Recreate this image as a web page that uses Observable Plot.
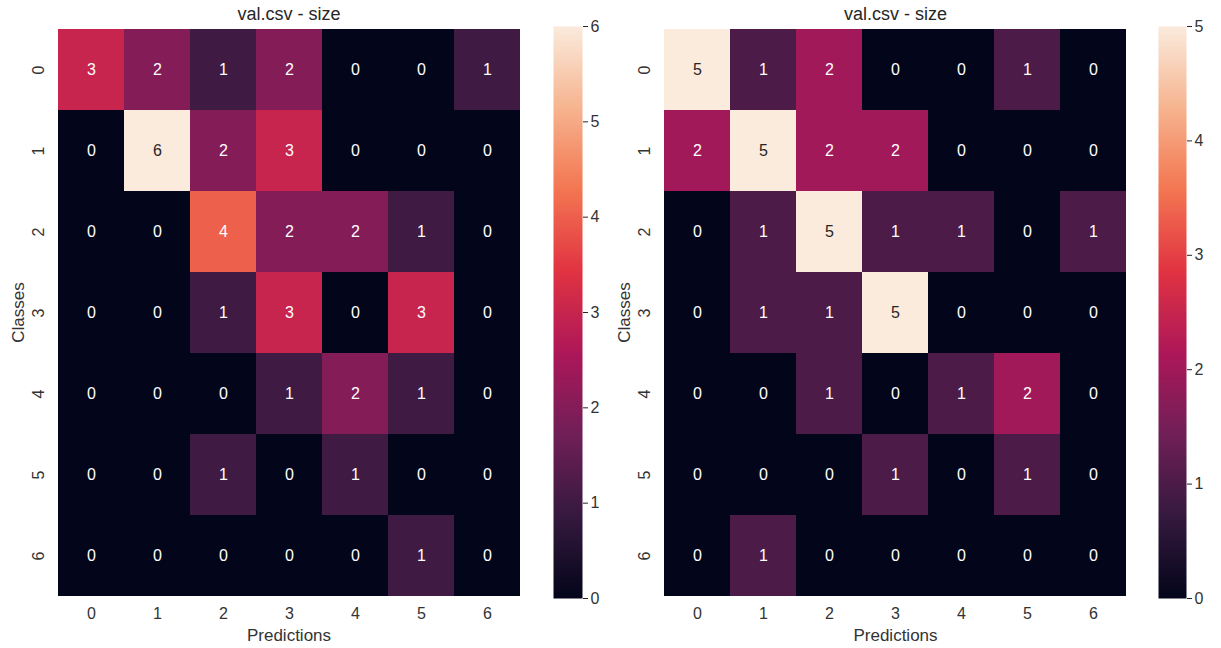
<!DOCTYPE html>
<html>
<head>
<meta charset="utf-8">
<script src="https://cdn.jsdelivr.net/npm/d3@7"></script>
<script src="https://cdn.jsdelivr.net/npm/@observablehq/plot@0.6"></script>
<style>
  body { margin: 0; background: #fff; }
  #wrap { position: relative; width: 1221px; height: 648px; overflow: hidden; font-family: "Liberation Sans", Arial, sans-serif; }
  #wrap > div { position: absolute; top: 0; }
  svg { overflow: visible; }
</style>
</head>
<body>
<div id="wrap">
  <div id="hmL" style="left:0px"></div>
  <div id="cbL" style="left:540px"></div>
  <div id="hmR" style="left:606px"></div>
  <div id="cbR" style="left:1145px"></div>
</div>
<script>
// ---- data ----
const classes = ["0", "1", "2", "3", "4", "5", "6"];
const predictions = ["0", "1", "2", "3", "4", "5", "6"];
const titleLeft = "val.csv - size";
const titleRight = "val.csv - size";
const xLabel = "Predictions";
const yLabel = "Classes";
const matrixLeft = [
  [3, 2, 1, 2, 0, 0, 1],
  [0, 6, 2, 3, 0, 0, 0],
  [0, 0, 4, 2, 2, 1, 0],
  [0, 0, 1, 3, 0, 3, 0],
  [0, 0, 0, 1, 2, 1, 0],
  [0, 0, 1, 0, 1, 0, 0],
  [0, 0, 0, 0, 0, 1, 0]
];
const matrixRight = [
  [5, 1, 2, 0, 0, 1, 0],
  [2, 5, 2, 2, 0, 0, 0],
  [0, 1, 5, 1, 1, 0, 1],
  [0, 1, 1, 5, 0, 0, 0],
  [0, 0, 1, 0, 1, 2, 0],
  [0, 0, 0, 1, 0, 1, 0],
  [0, 1, 0, 0, 0, 0, 0]
];
const colorbarTicksLeft = [0, 1, 2, 3, 4, 5, 6];
const colorbarTicksRight = [0, 1, 2, 3, 4, 5];
// seaborn "rocket" colormap stops
const rocket = ["#03051a", "#35193e", "#701f57", "#ad1759", "#e13342", "#f37651", "#f6b48f", "#faebdd"];

const FONT = "Liberation Sans, Arial, sans-serif";
const TXT = "#262626";

function colorScale(max) {
  const n = rocket.length - 1;
  return {
    type: "linear",
    domain: rocket.map((_, i) => (i / n) * max),
    range: rocket,
    interpolate: "rgb",
    clamp: true
  };
}

function heatmap(matrix, title, max, margins) {
  const data = [];
  matrix.forEach((row, i) => row.forEach((v, j) => data.push({cls: classes[i], pred: predictions[j], v})));
  const cs = colorScale(max);
  const scale = d3.scaleLinear().domain(cs.domain).range(cs.range).interpolate(d3.interpolateRgb).clamp(true);
  const textColor = (d) => d3.lab(scale(d.v)).l > 60 ? TXT : "#ffffff";
  return Plot.plot({
    width: margins.width,
    height: 648,
    marginTop: 26,
    marginBottom: 50,
    marginLeft: margins.left,
    marginRight: margins.right,
    style: {fontFamily: FONT, fontSize: "16px", color: TXT, background: "transparent"},
    x: {domain: predictions, padding: 0, label: null},
    y: {domain: classes, padding: 0, label: null},
    color: cs,
    marks: [
      Plot.cell(data, {x: "pred", y: "cls", fill: "v", inset: 0}),
      Plot.text(data, {x: "pred", y: "cls", text: (d) => String(d.v), fill: textColor, fontSize: 16}),
      Plot.axisX({tickSize: 0, tickPadding: 9, fontSize: 16, fill: "#333"}),
      Plot.axisX({ticks: [], tickSize: 0, label: xLabel, labelAnchor: "center", labelArrow: "none", labelOffset: 42, fontSize: 17, fill: "#333"}),
      Plot.axisY({tickSize: 0, tickPadding: 12, tickRotate: -90, fontSize: 16, fill: "#333"}),
      Plot.axisY({ticks: [], tickSize: 0, label: yLabel, labelAnchor: "center", labelArrow: "none", labelOffset: 44, fontSize: 17, fill: "#333"}),
      Plot.text([title], {frameAnchor: "top", dy: -12, lineAnchor: "middle", fontSize: 18, fill: TXT})
    ]
  });
}

function colorbar(max, ticks, width, right) {
  return Plot.plot({
    width: width,
    height: 648,
    marginTop: 26,
    marginBottom: 50,
    marginLeft: 13,
    marginRight: right,
    style: {fontFamily: FONT, fontSize: "16px", color: TXT, background: "transparent"},
    x: {domain: [0, 1], axis: null},
    y: {domain: [0, max], label: null},
    color: colorScale(max),
    marks: [
      Plot.raster({fill: (x, y) => y, x1: 0, x2: 1, y1: 0, y2: max, width: 1, height: 300}),
      Plot.axisY({anchor: "right", ticks: ticks, tickSize: 5, tickPadding: 3, fontSize: 16, tickFormat: "d", label: null, fill: "#333"})
    ]
  });
}

document.getElementById("hmL").append(heatmap(matrixLeft, titleLeft, 6, {width: 545, left: 55, right: 23}));
document.getElementById("cbL").append(colorbar(6, colorbarTicksLeft, 82, 40));
document.getElementById("hmR").append(heatmap(matrixRight, titleRight, 5, {width: 533, left: 55, right: 10}));
document.getElementById("cbR").append(colorbar(5, colorbarTicksRight, 76, 35));
</script>
</body>
</html>
